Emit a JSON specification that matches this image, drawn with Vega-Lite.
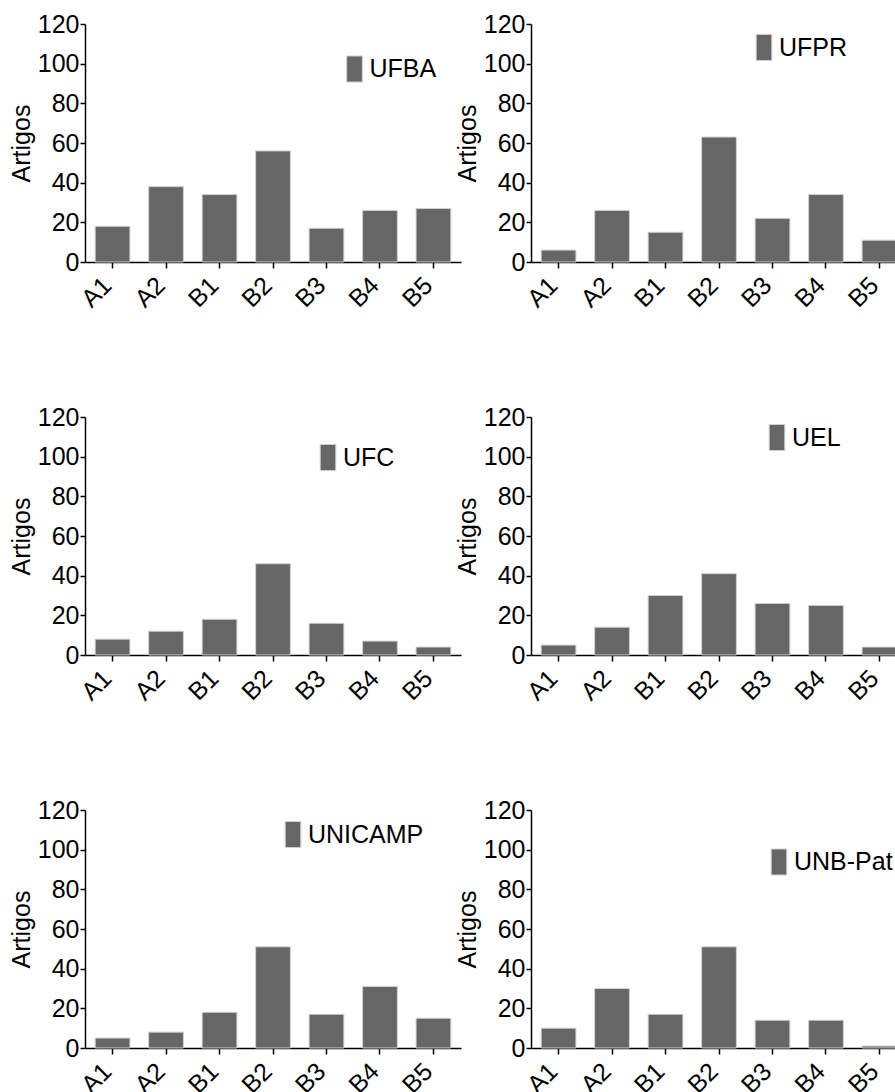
{
  "$schema": "https://vega.github.io/schema/vega-lite/v6.json",
  "padding": {"left": 9, "top": 12, "right": 0, "bottom": 0},
  "background": "white",
  "datasets": {
    "d": [
      {"uni": "UFBA", "cat": "A1", "n": 18}, {"uni": "UFBA", "cat": "A2", "n": 38}, {"uni": "UFBA", "cat": "B1", "n": 34}, {"uni": "UFBA", "cat": "B2", "n": 56}, {"uni": "UFBA", "cat": "B3", "n": 17}, {"uni": "UFBA", "cat": "B4", "n": 26}, {"uni": "UFBA", "cat": "B5", "n": 27},
      {"uni": "UFPR", "cat": "A1", "n": 6}, {"uni": "UFPR", "cat": "A2", "n": 26}, {"uni": "UFPR", "cat": "B1", "n": 15}, {"uni": "UFPR", "cat": "B2", "n": 63}, {"uni": "UFPR", "cat": "B3", "n": 22}, {"uni": "UFPR", "cat": "B4", "n": 34}, {"uni": "UFPR", "cat": "B5", "n": 11},
      {"uni": "UFC", "cat": "A1", "n": 8}, {"uni": "UFC", "cat": "A2", "n": 12}, {"uni": "UFC", "cat": "B1", "n": 18}, {"uni": "UFC", "cat": "B2", "n": 46}, {"uni": "UFC", "cat": "B3", "n": 16}, {"uni": "UFC", "cat": "B4", "n": 7}, {"uni": "UFC", "cat": "B5", "n": 4},
      {"uni": "UEL", "cat": "A1", "n": 5}, {"uni": "UEL", "cat": "A2", "n": 14}, {"uni": "UEL", "cat": "B1", "n": 30}, {"uni": "UEL", "cat": "B2", "n": 41}, {"uni": "UEL", "cat": "B3", "n": 26}, {"uni": "UEL", "cat": "B4", "n": 25}, {"uni": "UEL", "cat": "B5", "n": 4},
      {"uni": "UNICAMP", "cat": "A1", "n": 5}, {"uni": "UNICAMP", "cat": "A2", "n": 8}, {"uni": "UNICAMP", "cat": "B1", "n": 18}, {"uni": "UNICAMP", "cat": "B2", "n": 51}, {"uni": "UNICAMP", "cat": "B3", "n": 17}, {"uni": "UNICAMP", "cat": "B4", "n": 31}, {"uni": "UNICAMP", "cat": "B5", "n": 15},
      {"uni": "UNB-Pat", "cat": "A1", "n": 10}, {"uni": "UNB-Pat", "cat": "A2", "n": 30}, {"uni": "UNB-Pat", "cat": "B1", "n": 17}, {"uni": "UNB-Pat", "cat": "B2", "n": 51}, {"uni": "UNB-Pat", "cat": "B3", "n": 14}, {"uni": "UNB-Pat", "cat": "B4", "n": 14}, {"uni": "UNB-Pat", "cat": "B5", "n": 1}
    ]
  },
  "data": {"name": "d"},
  "columns": 2,
  "bounds": "flush",
  "spacing": {"row": 155, "column": 70},
  "resolve": {"scale": {"color": "independent"}, "legend": {"color": "independent"}},
  "config": {
    "font": "Liberation Sans",
    "view": {"stroke": null},
    "bar": {"fill": "#666666", "stroke": "#d0d0d0", "strokeWidth": 1},
    "axis": {
      "labelFont": "Liberation Sans", "titleFont": "Liberation Sans",
      "labelFontSize": 25, "titleFontSize": 25, "titleFontWeight": "normal",
      "labelColor": "black", "titleColor": "black",
      "domainColor": "black", "tickColor": "black", "domainWidth": 1.5, "tickWidth": 1.5,
      "grid": false
    },
    "axisX": {"tickSize": 6, "labelAngle": -45, "labelAlign": "right", "labelBaseline": "middle", "labelPadding": 13, "labelOffset": -5},
    "axisY": {"tickSize": 5, "labelPadding": 1, "titlePadding": 3},
    "legend": {
      "orient": "none", "title": null, "padding": 0,
      "symbolType": "M-0.6,-1H0.6V1H-0.6Z", "symbolSize": 676,
      "symbolFillColor": "#666666", "symbolStrokeColor": "#d0d0d0", "symbolStrokeWidth": 1,
      "labelFont": "Liberation Sans", "labelFontSize": 25, "labelColor": "black", "labelOffset": 1.5
    }
  },
  "concat": [
    {
      "width": 376, "height": 238,
      "transform": [{"filter": "datum.uni == 'UFBA'"}],
      "mark": {"type": "bar"},
      "encoding": {
        "x": {"field": "cat", "type": "nominal", "title": null, "scale": {"paddingInner": 0.35, "paddingOuter": 0.19}},
        "y": {"field": "n", "type": "quantitative", "title": "Artigos", "scale": {"domain": [0, 120], "nice": false}, "axis": {"values": [0, 20, 40, 60, 80, 100, 120]}},
        "color": {"field": "uni", "type": "nominal", "scale": {"range": ["#666666"]}, "legend": {"legendX": 256, "legendY": 31.5}}
      }
    },
    {
      "width": 376, "height": 238,
      "transform": [{"filter": "datum.uni == 'UFPR'"}],
      "mark": {"type": "bar"},
      "encoding": {
        "x": {"field": "cat", "type": "nominal", "title": null, "scale": {"paddingInner": 0.35, "paddingOuter": 0.19}},
        "y": {"field": "n", "type": "quantitative", "title": "Artigos", "scale": {"domain": [0, 120], "nice": false}, "axis": {"values": [0, 20, 40, 60, 80, 100, 120]}},
        "color": {"field": "uni", "type": "nominal", "scale": {"range": ["#666666"]}, "legend": {"legendX": 219.5, "legendY": 10}}
      }
    },
    {
      "width": 376, "height": 238,
      "transform": [{"filter": "datum.uni == 'UFC'"}],
      "mark": {"type": "bar"},
      "encoding": {
        "x": {"field": "cat", "type": "nominal", "title": null, "scale": {"paddingInner": 0.35, "paddingOuter": 0.19}},
        "y": {"field": "n", "type": "quantitative", "title": "Artigos", "scale": {"domain": [0, 120], "nice": false}, "axis": {"values": [0, 20, 40, 60, 80, 100, 120]}},
        "color": {"field": "uni", "type": "nominal", "scale": {"range": ["#666666"]}, "legend": {"legendX": 229.5, "legendY": 27}}
      }
    },
    {
      "width": 376, "height": 238,
      "transform": [{"filter": "datum.uni == 'UEL'"}],
      "mark": {"type": "bar"},
      "encoding": {
        "x": {"field": "cat", "type": "nominal", "title": null, "scale": {"paddingInner": 0.35, "paddingOuter": 0.19}},
        "y": {"field": "n", "type": "quantitative", "title": "Artigos", "scale": {"domain": [0, 120], "nice": false}, "axis": {"values": [0, 20, 40, 60, 80, 100, 120]}},
        "color": {"field": "uni", "type": "nominal", "scale": {"range": ["#666666"]}, "legend": {"legendX": 232.5, "legendY": 7}}
      }
    },
    {
      "width": 376, "height": 238,
      "transform": [{"filter": "datum.uni == 'UNICAMP'"}],
      "mark": {"type": "bar"},
      "encoding": {
        "x": {"field": "cat", "type": "nominal", "title": null, "scale": {"paddingInner": 0.35, "paddingOuter": 0.19}},
        "y": {"field": "n", "type": "quantitative", "title": "Artigos", "scale": {"domain": [0, 120], "nice": false}, "axis": {"values": [0, 20, 40, 60, 80, 100, 120]}},
        "color": {"field": "uni", "type": "nominal", "scale": {"range": ["#666666"]}, "legend": {"legendX": 194.5, "legendY": 11}}
      }
    },
    {
      "width": 376, "height": 238,
      "transform": [{"filter": "datum.uni == 'UNB-Pat'"}],
      "mark": {"type": "bar"},
      "encoding": {
        "x": {"field": "cat", "type": "nominal", "title": null, "scale": {"paddingInner": 0.35, "paddingOuter": 0.19}},
        "y": {"field": "n", "type": "quantitative", "title": "Artigos", "scale": {"domain": [0, 120], "nice": false}, "axis": {"values": [0, 20, 40, 60, 80, 100, 120]}},
        "color": {"field": "uni", "type": "nominal", "scale": {"range": ["#666666"]}, "legend": {"legendX": 234.5, "legendY": 38.5}}
      }
    }
  ]
}
